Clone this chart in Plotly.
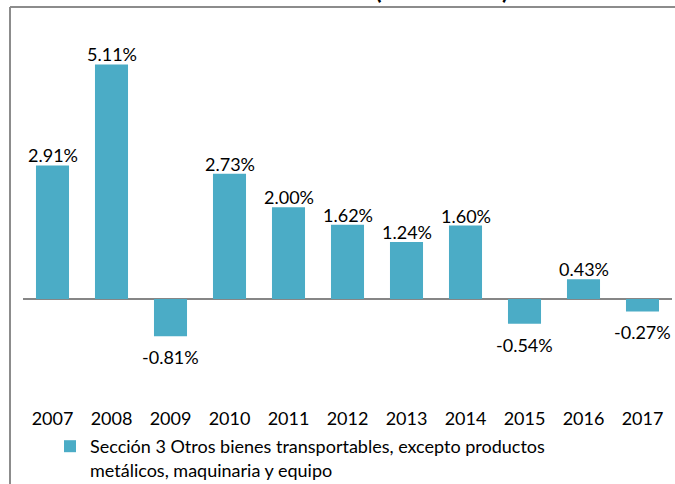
import plotly.graph_objects as go

years = ["2007", "2008", "2009", "2010", "2011", "2012", "2013", "2014", "2015", "2016", "2017"]
values = [2.91, 5.11, -0.81, 2.73, 2.00, 1.62, 1.24, 1.60, -0.54, 0.43, -0.27]
labels = [f"{v:.2f}%" for v in values]
series_name = "Sección 3 Otros bienes transportables, excepto productos<br>metálicos, maquinaria y equipo"
title_tail = "(2007-2017)"

W, H = 675, 484
ML, MR, MT, MB = 23, 3, 30, 82
PW, PH = W - ML - MR, H - MT - MB

def px_x(p):
    return (p - ML) / PW

def px_y(p):
    return (H - MB - p) / PH

FONT = "Lato, 'Open Sans', sans-serif"

fig = go.Figure()
fig.add_trace(go.Bar(
    x=years, y=values, name=series_name,
    marker=dict(color="#4BACC6", line=dict(width=0)),
    showlegend=True,
))

# data labels (category axis: position = category index)
for i, (v, lab) in enumerate(zip(values, labels)):
    fig.add_annotation(x=i, y=v, xref="x", yref="y", text=lab, showarrow=False,
                       yanchor="bottom" if v >= 0 else "top",
                       yshift=-3 if v >= 0 else -8,
                       font=dict(family=FONT, size=18, color="#000000"))

fig.update_layout(
    width=W, height=H,
    margin=dict(l=ML, r=MR, t=MT, b=MB, pad=0, autoexpand=False),
    paper_bgcolor="white", plot_bgcolor="white",
    bargap=0.44,
    font=dict(family=FONT, size=18, color="#000000"),
    xaxis=dict(type="category", range=[-0.5, len(years) - 0.5],
               showline=False, ticks="", showgrid=False, zeroline=False,
               ticklabelstandoff=4,
               tickfont=dict(family=FONT, size=18, color="#000000")),
    yaxis=dict(range=[-2.244, 5.861], showticklabels=False, showgrid=False,
               zeroline=True, zerolinecolor="#868686", zerolinewidth=1.5,
               showline=False, ticks=""),
    legend=dict(orientation="v", x=px_x(50), xanchor="left", y=px_y(428), yanchor="top",
                valign="top", bgcolor="rgba(0,0,0,0)",
                font=dict(family=FONT, size=18, color="#000000"),
                itemwidth=30),
    showlegend=True,
)

# chart frame: left and top edges (the rest lies outside the visible area)
fig.add_shape(type="line", xref="paper", yref="paper",
              x0=px_x(10), x1=px_x(10), y0=px_y(500), y1=px_y(7),
              line=dict(color="#8c8c8c", width=2), layer="below")
fig.add_shape(type="line", xref="paper", yref="paper",
              x0=px_x(10), x1=px_x(700), y0=px_y(7), y1=px_y(7),
              line=dict(color="#8c8c8c", width=2), layer="below")

# cut-off title tail
fig.add_annotation(text="<b>" + title_tail + "</b>", xref="paper", yref="paper",
                   x=px_x(442), y=px_y(5), xanchor="center", yanchor="bottom",
                   showarrow=False, borderpad=0,
                   font=dict(family=FONT, size=24, color="#000000"))

fig.write_html("out.html", config={"displayModeBar": False},
               post_script="document.body.style.margin='0';document.body.style.overflow='hidden';")
